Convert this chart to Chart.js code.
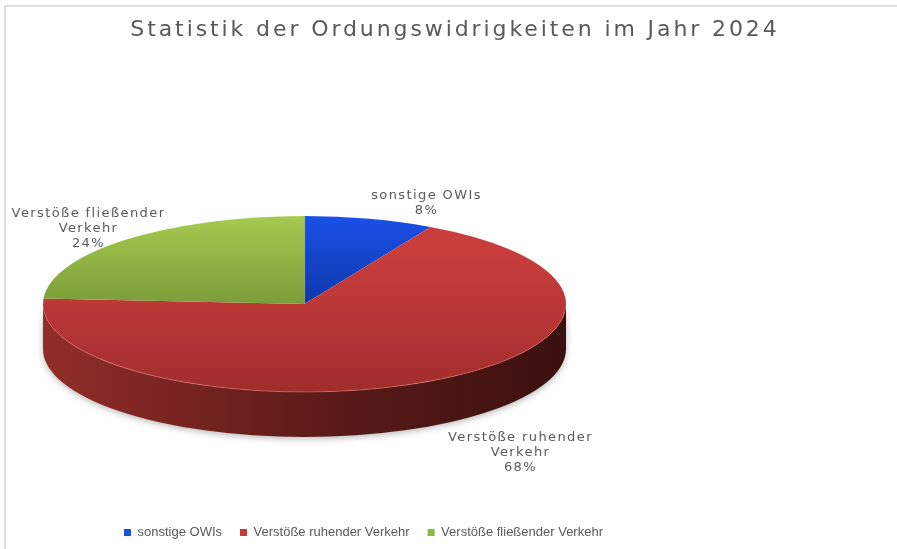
<!DOCTYPE html>
<html lang="de">
<head>
<meta charset="utf-8">
<title>Statistik der Ordungswidrigkeiten 2024</title>
<script src="https://cdn.jsdelivr.net/npm/chart.js@4.4.1/dist/chart.umd.min.js"></script>
<style>
  html, body { margin: 0; padding: 0; background: #fff; }
  #wrap { position: relative; width: 897px; height: 549px; overflow: hidden; }
  #frame { position: absolute; left: 4px; top: 5px; right: -4px; bottom: -4px;
           border-top: 2px solid #dcdcdc; border-left: 2px solid #dcdcdc; }
  #owi-chart { position: absolute; left: 0; top: 0; }
</style>
</head>
<body>
<div id="wrap">
  <div id="frame"></div>
  <canvas id="owi-chart" width="897" height="549"></canvas>
</div>
<script>
// Chart data
const categories = ['sonstige OWIs', 'Verstöße ruhender Verkehr', 'Verstöße fließender Verkehr'];
const shares = [8, 68, 24];

// Styles
const FONT = '"DejaVu Sans", "Liberation Sans", sans-serif';
const LEGEND_FONT = '"Liberation Sans", Arial, sans-serif';
const TEXT_COLOR = '#595959';
const legendColors = ['#1b4fd8', '#c23b3a', '#8fb542'];
const faceShades = [
  [[0, '#1a50e8'], [0.5, '#0e38aa']],
  [[0, '#cc403f'], [0.5, '#bc3837'], [1, '#9f2d2c']],
  [[0, '#a6ca50'], [0.5, '#7c9d39']]
];
const wallShades = [
  [[0, '#10308f'], [1, '#0a1f5c']],
  [[0, '#922d29'], [0.5, '#5f1c1a'], [1, '#3a100f']],
  [[0, '#6e8c33'], [1, '#45581f']]
];
// where each label sits relative to its slice's rim point
const labelNudges = [[57, -16], [90, 27], [-37, -11]];

function faceGradient(context, stops) {
  const chart = context.chart;
  const area = chart.chartArea;
  if (!area) return stops[0][1];
  const cy = (area.top + area.bottom) / 2;
  const r = Math.min(area.right - area.left, area.bottom - area.top) / 2;
  const g = chart.ctx.createLinearGradient(0, cy - r, 0, cy + r);
  stops.forEach(([o, c]) => g.addColorStop(o, c));
  return g;
}

// Squash the flat pie into an ellipse and give it a front wall
const pie3d = {
  id: 'pie3d',
  beforeDatasetsDraw(chart, args, opts) {
    const arcs = chart.getDatasetMeta(0).data;
    this._active = arcs.length > 0;
    if (!this._active) return;
    const { x, y, outerRadius } = arcs[0];
    const { cx, cy, rx, ry, depth } = opts;
    const ctx = chart.ctx;

    ctx.save();
    arcs.forEach((arc, i) => {
      const a = Math.max(arc.startAngle, 0);
      const b = Math.min(arc.endAngle, Math.PI);
      if (a >= b) return;
      const g = ctx.createLinearGradient(cx - rx, 0, cx + rx, 0);
      wallShades[i].forEach(([o, c]) => g.addColorStop(o, c));
      ctx.beginPath();
      ctx.ellipse(cx, cy, rx, ry, 0, a, b);
      ctx.ellipse(cx, cy + depth, rx, ry, 0, b, a, true);
      ctx.closePath();
      ctx.shadowColor = 'rgba(0, 0, 0, 0.28)';
      ctx.shadowBlur = 6;
      ctx.shadowOffsetY = 2;
      ctx.fillStyle = g;
      ctx.fill();
    });
    ctx.restore();

    ctx.save();
    ctx.translate(cx, cy);
    ctx.scale(rx / outerRadius, ry / outerRadius);
    ctx.translate(-x, -y);
  },
  afterDatasetsDraw(chart, args, opts) {
    if (!this._active) return;
    const ctx = chart.ctx;
    ctx.restore();
    // light rim on the front edge of the top face
    ctx.save();
    ctx.beginPath();
    ctx.ellipse(opts.cx, opts.cy, opts.rx, opts.ry, 0, 0.08, Math.PI - 0.08);
    ctx.strokeStyle = 'rgba(235, 120, 115, 0.55)';
    ctx.lineWidth = 1;
    ctx.stroke();
    ctx.restore();
  }
};

function wrapText(ctx, text, maxWidth) {
  const lines = [];
  let line = '';
  text.split(' ').forEach(word => {
    const test = line ? line + ' ' + word : word;
    if (line && ctx.measureText(test).width > maxWidth) {
      lines.push(line);
      line = word;
    } else {
      line = test;
    }
  });
  if (line) lines.push(line);
  return lines;
}

// Category + percent labels next to the slices
const sliceLabels = {
  id: 'sliceLabels',
  afterDraw(chart, args, opts) {
    const arcs = chart.getDatasetMeta(0).data;
    const geo = chart.options.plugins.pie3d;
    const total = shares.reduce((s, v) => s + v, 0);
    const ctx = chart.ctx;
    ctx.save();
    ctx.font = opts.size + 'px ' + FONT;
    ctx.letterSpacing = opts.spacing + 'px';
    ctx.fillStyle = TEXT_COLOR;
    ctx.textAlign = 'center';
    ctx.textBaseline = 'middle';
    arcs.forEach((arc, i) => {
      const mid = (arc.startAngle + arc.endAngle) / 2;
      const sin = Math.sin(mid);
      const ax = geo.cx + geo.rx * Math.cos(mid) + labelNudges[i][0];
      const ay = geo.cy + geo.ry * sin + (sin > 0 ? geo.depth : 0) + labelNudges[i][1];
      const lines = wrapText(ctx, categories[i], opts.maxWidth);
      lines.push(Math.round(shares[i] / total * 100) + '%');
      const top = ay - (lines.length - 1) * opts.lineHeight / 2;
      lines.forEach((t, k) => ctx.fillText(t, ax, top + k * opts.lineHeight));
    });
    ctx.restore();
  }
};

// Wide tracking on the title only
const spacedTitle = {
  id: 'spacedTitle',
  afterInit(chart) {
    const block = chart.titleBlock;
    if (!block) return;
    const draw = block.draw.bind(block);
    block.draw = function (area) {
      chart.ctx.save();
      chart.ctx.letterSpacing = '2.9px';
      draw(area);
      chart.ctx.restore();
    };
  }
};

const chart = new Chart(document.getElementById('owi-chart'), {
  type: 'pie',
  data: {
    labels: categories,
    datasets: [{
      label: 'Ordnungswidrigkeiten 2024',
      data: shares,
      backgroundColor: (c) => faceGradient(c, faceShades[c.dataIndex] || faceShades[0]),
      borderWidth: 0
    }]
  },
  options: {
    responsive: false,
    animation: false,
    events: [],
    layout: {
      padding: { left: 106, right: 93, top: 0, bottom: 0 }
    },
    plugins: {
      title: {
        display: true,
        text: 'Statistik der Ordungswidrigkeiten im Jahr 2024',
        color: TEXT_COLOR,
        font: { family: FONT, size: 22, weight: 'normal' },
        padding: { top: 17, bottom: 10 }
      },
      legend: {
        position: 'bottom',
        align: 'start',
        labels: {
          color: TEXT_COLOR,
          font: { family: LEGEND_FONT, size: 13 },
          boxWidth: 7,
          boxHeight: 7,
          padding: 18,
          generateLabels(chart) {
            const items = Chart.overrides.doughnut.plugins.legend.labels.generateLabels(chart);
            items.forEach((it, i) => {
              it.fillStyle = legendColors[i];
              it.strokeStyle = legendColors[i];
              it.lineWidth = 0;
            });
            return items;
          }
        }
      },
      tooltip: { enabled: false },
      pie3d: { cx: 304.5, cy: 304, rx: 261.5, ry: 88, depth: 45 },
      sliceLabels: { size: 13, spacing: 1.4, lineHeight: 15, maxWidth: 170 }
    }
  },
  plugins: [pie3d, sliceLabels, spacedTitle]
});
</script>
</body>
</html>
